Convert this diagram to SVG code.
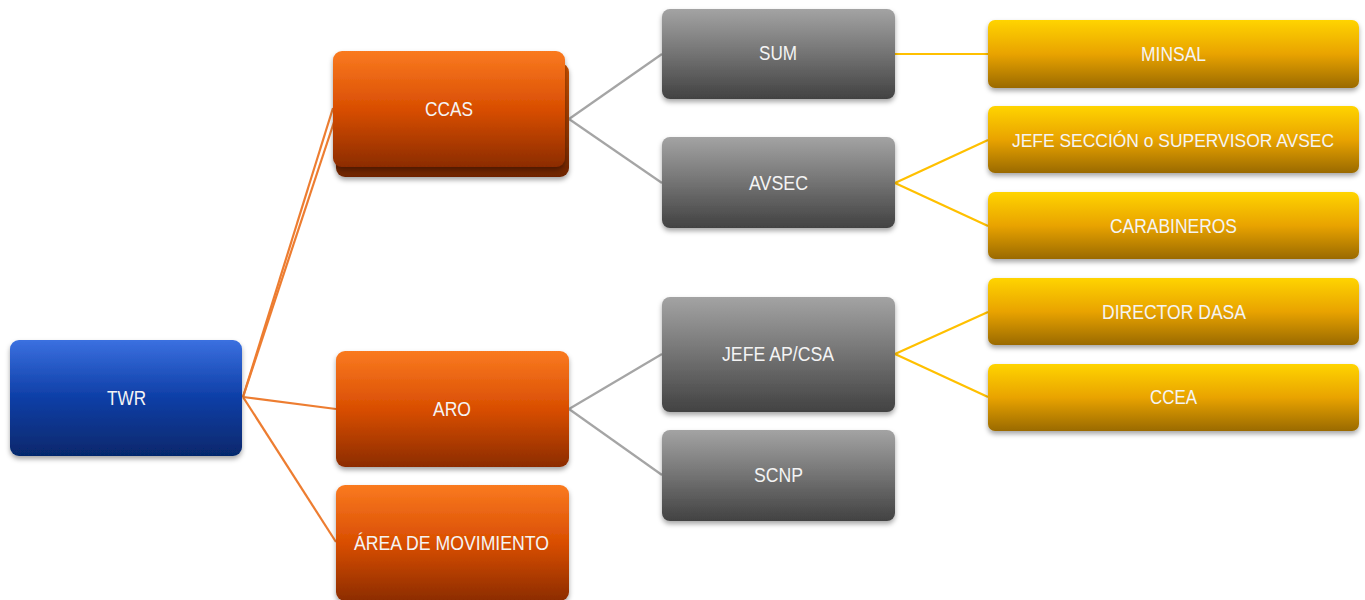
<svg xmlns="http://www.w3.org/2000/svg" width="1365" height="600" viewBox="0 0 1365 600">
<style>
  text { font-family: "Liberation Sans", Arial, sans-serif; font-size: 19.5px; fill: #f4f4f4; text-anchor: middle; }
  .c-or { stroke: #ed7d31; stroke-width: 2.2; fill: none; }
  .c-gr { stroke: #a5a5a5; stroke-width: 2.2; fill: none; }
  .c-ye { stroke: #ffc000; stroke-width: 2.2; fill: none; }
</style>
<defs>
  <linearGradient id="gBlue" x1="0" y1="0" x2="0" y2="1">
    <stop offset="0" stop-color="#3b70e0"/>
    <stop offset="0.5" stop-color="#0d3ea6"/>
    <stop offset="1" stop-color="#06286c"/>
  </linearGradient>
  <linearGradient id="gOrange" x1="0" y1="0" x2="0" y2="1">
    <stop offset="0" stop-color="#fa7a20"/>
    <stop offset="0.5" stop-color="#d94e02"/>
    <stop offset="1" stop-color="#8c2c00"/>
  </linearGradient>
  <linearGradient id="gOrangeBack" x1="0" y1="0" x2="0" y2="1">
    <stop offset="0" stop-color="#c85000"/>
    <stop offset="1" stop-color="#6e2400"/>
  </linearGradient>
  <linearGradient id="gGray" x1="0" y1="0" x2="0" y2="1">
    <stop offset="0" stop-color="#a3a3a3"/>
    <stop offset="0.5" stop-color="#737373"/>
    <stop offset="1" stop-color="#424242"/>
  </linearGradient>
  <linearGradient id="gYellow" x1="0" y1="0" x2="0" y2="1">
    <stop offset="0" stop-color="#ffd400"/>
    <stop offset="0.5" stop-color="#e9a300"/>
    <stop offset="1" stop-color="#9a6a00"/>
  </linearGradient>
  <filter id="sh" x="-10%" y="-10%" width="120%" height="130%">
    <feDropShadow dx="0" dy="3" stdDeviation="2.5" flood-color="#000" flood-opacity="0.35"/>
  </filter>
</defs>

<g id="connectors">
  <line class="c-or" x1="243" y1="397" x2="333" y2="108"/>
  <line class="c-or" x1="243" y1="397" x2="336" y2="116"/>
  <line class="c-or" x1="243" y1="397" x2="336" y2="409"/>
  <line class="c-or" x1="243" y1="397" x2="336" y2="542"/>
  <line class="c-gr" x1="569" y1="119" x2="662" y2="54"/>
  <line class="c-gr" x1="569" y1="119" x2="662" y2="183"/>
  <line class="c-gr" x1="569" y1="409" x2="662" y2="354"/>
  <line class="c-gr" x1="569" y1="409" x2="662" y2="475"/>
  <line class="c-ye" x1="895" y1="54" x2="988" y2="54"/>
  <line class="c-ye" x1="895" y1="183" x2="988" y2="140"/>
  <line class="c-ye" x1="895" y1="183" x2="988" y2="226"/>
  <line class="c-ye" x1="895" y1="354" x2="988" y2="312"/>
  <line class="c-ye" x1="895" y1="354" x2="988" y2="397"/>
</g>

<g id="twr">
  <rect x="10" y="340" width="232" height="116" rx="9" fill="url(#gBlue)" filter="url(#sh)"/>
  <text x="126.5" y="404.5" textLength="39" lengthAdjust="spacingAndGlyphs">TWR</text>
</g>

<g id="ccas">
  <rect x="336" y="63" width="233" height="114" rx="9" fill="url(#gOrangeBack)" filter="url(#sh)"/>
  <rect x="333" y="51" width="232" height="116" rx="9" fill="url(#gOrange)" filter="url(#sh)"/>
  <text x="449" y="115.5" textLength="48" lengthAdjust="spacingAndGlyphs">CCAS</text>
</g>

<g id="aro">
  <rect x="336" y="351" width="233" height="116" rx="9" fill="url(#gOrange)" filter="url(#sh)"/>
  <text x="452" y="415.5" textLength="38" lengthAdjust="spacingAndGlyphs">ARO</text>
</g>

<g id="area-movimiento">
  <rect x="336" y="485" width="233" height="116" rx="9" fill="url(#gOrange)" filter="url(#sh)"/>
  <text x="451.5" y="549.5" textLength="195" lengthAdjust="spacingAndGlyphs">ÁREA DE MOVIMIENTO</text>
</g>

<g id="sum">
  <rect x="662" y="9" width="233" height="90" rx="8" fill="url(#gGray)" filter="url(#sh)"/>
  <text x="778" y="60" textLength="38" lengthAdjust="spacingAndGlyphs">SUM</text>
</g>

<g id="avsec">
  <rect x="662" y="137" width="233" height="91" rx="8" fill="url(#gGray)" filter="url(#sh)"/>
  <text x="778.5" y="189.5" textLength="59" lengthAdjust="spacingAndGlyphs">AVSEC</text>
</g>

<g id="jefe-ap-csa">
  <rect x="662" y="297" width="233" height="115" rx="8" fill="url(#gGray)" filter="url(#sh)"/>
  <text x="778" y="360.5" textLength="112" lengthAdjust="spacingAndGlyphs">JEFE AP/CSA</text>
</g>

<g id="scnp">
  <rect x="662" y="430" width="233" height="91" rx="8" fill="url(#gGray)" filter="url(#sh)"/>
  <text x="778.5" y="481.5" textLength="49" lengthAdjust="spacingAndGlyphs">SCNP</text>
</g>

<g id="minsal">
  <rect x="988" y="20" width="371" height="68" rx="7" fill="url(#gYellow)" filter="url(#sh)"/>
  <text x="1173.5" y="60.5" textLength="65" lengthAdjust="spacingAndGlyphs">MINSAL</text>
</g>

<g id="jefe-seccion">
  <rect x="988" y="106" width="371" height="67" rx="7" fill="url(#gYellow)" filter="url(#sh)"/>
  <text x="1173" y="146.5" style="font-size:18px" textLength="322" lengthAdjust="spacingAndGlyphs">JEFE SECCIÓN o SUPERVISOR AVSEC</text>
</g>

<g id="carabineros">
  <rect x="988" y="192" width="371" height="67" rx="7" fill="url(#gYellow)" filter="url(#sh)"/>
  <text x="1173.5" y="232.5" textLength="127" lengthAdjust="spacingAndGlyphs">CARABINEROS</text>
</g>

<g id="director-dasa">
  <rect x="988" y="278" width="371" height="67" rx="7" fill="url(#gYellow)" filter="url(#sh)"/>
  <text x="1174" y="318.5" textLength="144" lengthAdjust="spacingAndGlyphs">DIRECTOR DASA</text>
</g>

<g id="ccea">
  <rect x="988" y="364" width="371" height="67" rx="7" fill="url(#gYellow)" filter="url(#sh)"/>
  <text x="1173.5" y="403.5" textLength="47" lengthAdjust="spacingAndGlyphs">CCEA</text>
</g>
</svg>
